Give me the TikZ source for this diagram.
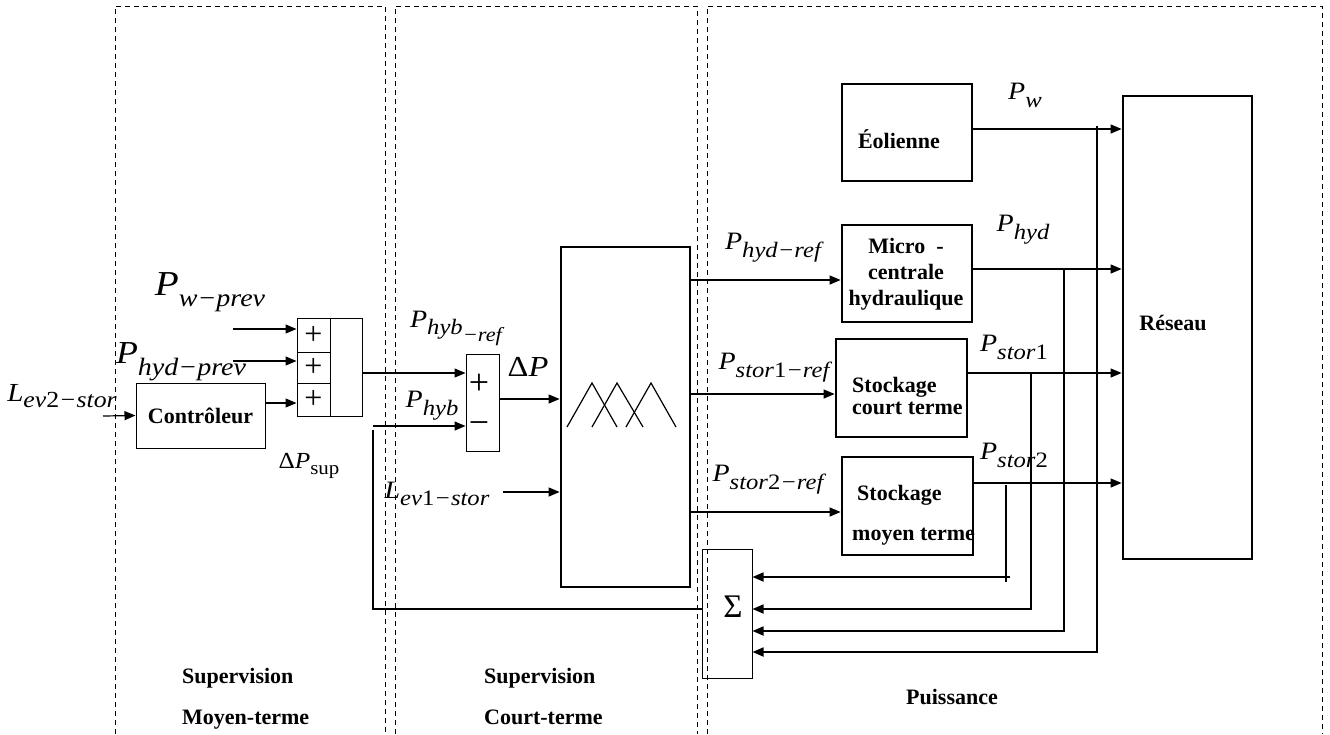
\documentclass[tikz,border=0pt]{standalone}
\usepackage{fontspec}
\setmainfont{Liberation Serif}
\usepackage{graphicx}
\usetikzlibrary{arrows.meta}
\newcommand\fs[1]{\fontsize{#1}{#1}\selectfont}
% #1 main size, #2 main symbol, #3 sub size, #4 sub text, #5 raise
\newcommand\Sy[5]{\scalebox{1.12}[1]{{\fs{#1}\itshape #2}\raisebox{#5}{\fs{#3}\itshape #4}}}
\begin{document}
\begin{tikzpicture}[x=1pt,y=-1pt,
  dashbox/.style={draw, dash pattern=on 5pt off 4pt, line width=0.8pt},
  thinbox/.style={draw, line width=1pt, inner sep=0pt},
  thickbox/.style={draw, line width=2.8pt, inner sep=0pt},
  conn/.style={line width=1.2pt},
  fbline/.style={line width=1.7pt},
  tip/.style={-{Triangle[length=11pt,width=9pt]}},
  boxtext/.style={font=\fontsize{22}{26}\selectfont\bfseries, inner sep=0pt},
  sym/.style={inner sep=0pt}
]
\useasboundingbox (0,0) rectangle (1330,734);

% zones
\draw[dashbox] (115,734) -- (115,6) -- (385,6) -- (385,734);
\draw[dashbox] (395,734) -- (395,6) -- (697,6) -- (697,734);
\draw[dashbox] (707,734) -- (707,6) -- (1322,6) -- (1322,734);

% blocks
\node[thinbox, minimum width=129pt, minimum height=65pt, boxtext] (ctrl) at (200.5,415.5) {Contrôleur};
\node[thinbox, minimum width=33pt, minimum height=34pt, font=\fs{32}] (a1) at (313.5,335) {+};
\node[thinbox, minimum width=33pt, minimum height=31pt, font=\fs{32}] (a2) at (313.5,367.5) {+};
\node[thinbox, minimum width=33pt, minimum height=33pt, font=\fs{32}] (a3) at (313.5,399.5) {+};
\node[thinbox, minimum width=32pt, minimum height=98pt] (ar) at (346,367) {};
\node[thinbox, minimum width=33pt, minimum height=97pt] (sm) at (482.5,402.5) {};
\node[font=\fs{36}, inner sep=0pt] (smp) at (479,384) {+};
\node[font=\fs{36}, inner sep=0pt] (smm) at (479,428) {−};
\node[thickbox, minimum width=129pt, minimum height=340pt] (fz) at (625.5,417) {};
\node[thinbox, minimum width=50pt, minimum height=129pt] (sig) at (727,613.5) {};
\node[font=\fs{33}, inner sep=0pt] (sigt) at (733,607) {Σ};
\node[thickbox, minimum width=130pt, minimum height=97pt] (eo) at (907,132.5) {};
\node[boxtext] (eot) at (899,139) {Éolienne};
\node[thickbox, minimum width=130pt, minimum height=97pt] (mc) at (907,273.5) {};
\node[boxtext, align=center] (mct) at (906,274) {Micro\ \ -\\centrale\\hydraulique};
\node[thickbox, minimum width=131pt, minimum height=98pt] (sc) at (901.5,388) {};
\node[boxtext, align=left, anchor=west, font=\fontsize{22}{22}\selectfont\bfseries] (sct) at (852,396) {Stockage\\court terme};
\node[thickbox, minimum width=131pt, minimum height=98pt] (sl) at (907.5,506) {};
\node[boxtext, align=left, anchor=west, font=\fontsize{22}{40}\selectfont\bfseries] (slt) at (852,515) {\hspace{5pt}Stockage\\moyen terme};
\node[thickbox, minimum width=129pt, minimum height=463pt] (rs) at (1187.5,327.5) {};
\node[boxtext] (rst) at (1173,323) {Réseau};

% membership functions
\draw[conn] (567,427) -- (592,383) -- (617,427);
\draw[conn] (592,427) -- (617,383) -- (643,427);
\draw[conn] (626,427) -- (651,383) -- (676,427);

% connectors, left part
\coordinate (lev2) at (103,416);
\draw[conn,tip] (lev2) -- (ctrl.west);
\coordinate (pwp) at (233,329);
\draw[conn,tip] (pwp) -- (pwp -| a1.west);
\coordinate (php) at (233,361);
\draw[conn,tip] (php) -- (php -| a2.west);
\coordinate (ct) at (265,403);
\draw[conn,tip] (ct -| ctrl.east) -- (ct -| a3.west);
\coordinate (hr) at (466,373);
\draw[conn,tip] (ar.east |- hr) -- (hr -| sm.west);
\coordinate (fbtop) at (373,426);
\draw[conn,tip] (fbtop) -- (fbtop -| sm.west);
\coordinate (fbk) at (373,609);
\coordinate (fbv) at (373,430);
\draw[fbline] (fbk -| sig.west) -- (fbk) -- (fbv);
\coordinate (dp) at (0,399);
\draw[conn,tip] (dp -| sm.east) -- (dp -| fz.west);
\coordinate (l1) at (503,492);
\draw[conn,tip] (l1) -- (l1 -| fz.west);

% fuzzy outputs
\coordinate (o1) at (0,280);
\draw[conn,tip] (o1 -| fz.east) -- (o1 -| mc.west);
\coordinate (o2) at (0,394);
\draw[conn,tip] (o2 -| fz.east) -- (o2 -| sc.west);
\coordinate (o3) at (0,512);
\draw[conn,tip] (o3 -| fz.east) -- (o3 -| sl.west);

% powers to grid
\coordinate (r1) at (0,129);
\draw[conn,tip] (r1 -| eo.east) -- (r1 -| rs.west);
\coordinate (r2) at (0,269);
\draw[conn,tip] (r2 -| mc.east) -- (r2 -| rs.west);
\coordinate (r3) at (0,373);
\draw[conn,tip] (r3 -| sc.east) -- (r3 -| rs.west);
\coordinate (r4) at (0,483);
\draw[conn,tip] (r4 -| sl.east) -- (r4 -| rs.west);

% feedback taps
\coordinate (t1) at (1097,126);
\coordinate (b1) at (0,652);
\draw[fbline,tip] (t1) |- (sig.east |- b1);
\coordinate (t2) at (1064,269);
\coordinate (b2) at (0,631);
\draw[fbline,tip] (t2) |- (sig.east |- b2);
\coordinate (t3) at (1031,373);
\coordinate (b3) at (0,609);
\draw[fbline,tip] (t3) |- (sig.east |- b3);
\coordinate (t4) at (1006,485);
\coordinate (t4b) at (1006,582);
\draw[fbline] (t4) -- (t4b);
\coordinate (b4) at (1010,577);
\draw[fbline,tip] (b4) -- (b4 -| sig.east);

% labels
\node[sym] (lPw) at (1025,95) {\Sy{25}{P}{22}{w}{-8pt}};
\node[sym] (lPhyd) at (1023,230) {\Sy{25}{P}{22}{hyd}{-8pt}};
\node[sym] (lPhr) at (773,248) {\Sy{25}{P}{22}{hyd−ref}{-8pt}};
\node[sym] (lPs1r) at (774,368) {\Sy{25}{P}{22}{stor{\upshape 1}−ref}{-8pt}};
\node[sym] (lPs1) at (1014,347) {\Sy{25}{P}{22}{stor{\upshape 1}}{-8pt}};
\node[sym] (lPs2) at (1014,455) {\Sy{25}{P}{22}{stor{\upshape 2}}{-8pt}};
\node[sym] (lPs2r) at (768,480) {\Sy{25}{P}{22}{stor{\upshape 2}−ref}{-8pt}};
\node[sym] (lDP) at (528,367) {\scalebox{1.12}[1]{\fs{29}Δ\itshape P}};
\node[sym] (lPhbr) at (456,328) {\scalebox{1.12}[1]{{\fs{25}\itshape P}\raisebox{-7pt}{\fs{22}\itshape hyb}\raisebox{-14pt}{\fs{20}\itshape −ref}}};
\node[sym] (lPhb) at (432,406) {\Sy{25}{P}{22}{hyb}{-8pt}};
\node[sym] (lL1) at (437,494) {\Sy{25}{L}{22}{ev{\upshape 1}−stor}{-7pt}};
\node[sym] (lL2) at (62,396) {\Sy{26}{L}{23}{ev{\upshape 2}−stor}{-6pt}};
\node[sym] (lPhp) at (181,362) {\Sy{32}{P}{25}{hyd−prev}{-12pt}};
\node[sym] (lPwp) at (210,292) {\Sy{35}{P}{25}{w−prev}{-11pt}};
\node[sym] (lDPs) at (309,466) {\scalebox{1.1}[1]{{\fs{23}Δ\itshape P}\raisebox{-6pt}{\fs{19}sup}}};

% zone titles
\node[boxtext, align=left, anchor=base west, font=\fontsize{22}{41}\selectfont\bfseries] (z1) at (182,724) {Supervision\\Moyen-terme};
\node[boxtext, align=left, anchor=base west, font=\fontsize{22}{41}\selectfont\bfseries] (z2) at (484,724) {Supervision\\Court-terme};
\node[boxtext] (z3) at (952,697) {Puissance};
\end{tikzpicture}
\end{document}
